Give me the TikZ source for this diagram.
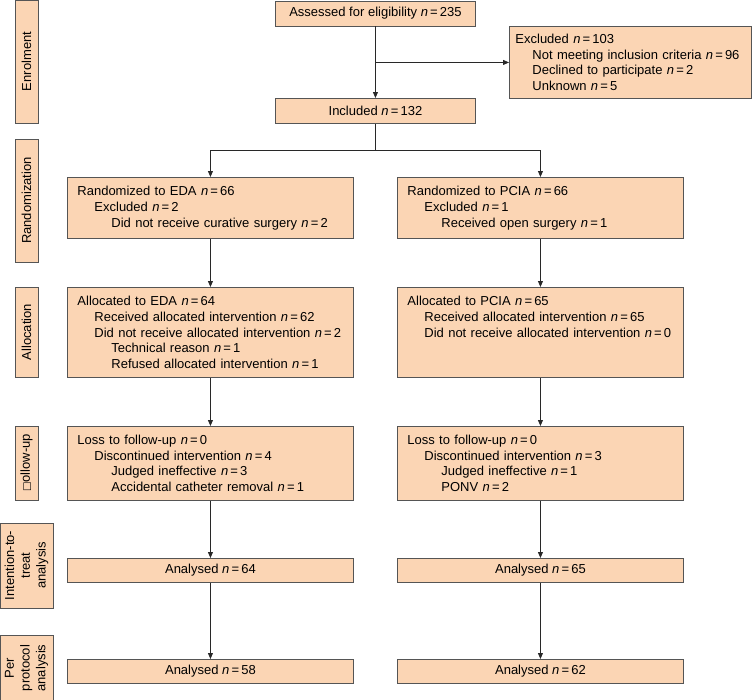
\documentclass[tikz,border=0pt]{standalone}
\usepackage{fontspec}
\setmainfont{Liberation Sans}
\newfontfamily\dejavu{DejaVu Sans}
\usetikzlibrary{arrows.meta}
\definecolor{peach}{RGB}{251,213,180}
\definecolor{edgegray}{RGB}{85,85,85}
\definecolor{linegray}{RGB}{40,40,40}
\newcommand{\nn}[1]{\textit{n}\,=\,#1}
\newcommand{\ind}{\hspace*{17pt}}
\begin{document}
\begin{tikzpicture}[x=1pt,y=-1pt,
  every node/.style={font=\fontsize{13}{15.75}\selectfont},
  box/.style={draw=edgegray, fill=peach, line width=0.9pt, anchor=north west, inner sep=0pt},
  sz/.style 2 args={minimum width=#1pt, minimum height=#2pt},
  lt/.style={align=left, text width=#1pt},
  lab/.style={draw=edgegray, fill=peach, line width=0.9pt, rotate=90, inner sep=0pt, align=center},
  arr/.style={-{Triangle[width=5pt,length=6pt]}, draw=linegray, line width=0.8pt},
  ln/.style={draw=linegray, line width=0.8pt}
]
\useasboundingbox (0,0) rectangle (752,699);

% stage labels
\node[lab, minimum width=123pt, minimum height=23pt] (lenrol) at (26.5,61.5) {Enrolment};
\node[lab, minimum width=123pt, minimum height=23pt] (lrand) at (26.5,200.5) {Randomization};
\node[lab, minimum width=90pt, minimum height=23pt] (lalloc) at (26.5,332) {Allocation};
\node[lab, minimum width=74pt, minimum height=23pt] (lfollow) at (26.5,463) {{\dejavu\fontsize{10}{10}\selectfont □}ollow-up};
\node[lab, minimum width=85pt, minimum height=53pt] (litt) at (26.5,565.5) {Intention-to-\\treat\\analysis};
\node[lab, minimum width=66pt, minimum height=53pt] (lpp) at (26.5,668) {Per\\protocol\\analysis};

% enrolment
\node[box, sz={200}{25}] (assess) at (275,0.5) {Assessed for eligibility \nn{235}};
\node[box, sz={242}{72}, lt=230] (excl) at (509,26) {Excluded \nn{103}\\
  \ind Not meeting inclusion criteria \nn{96}\\
  \ind Declined to participate \nn{2}\\
  \ind Unknown \nn{5}};
\node[box, sz={200}{25}] (incl) at (275,98) {Included \nn{132}};

% randomization
\node[box, sz={286}{61}, lt=266] (r1) at (67,177) {Randomized to EDA \nn{66}\\
  \ind Excluded \nn{2}\\
  \ind\ind Did not receive curative surgery \nn{2}};
\node[box, sz={286}{61}, lt=266] (r2) at (397,177) {Randomized to PCIA \nn{66}\\
  \ind Excluded \nn{1}\\
  \ind\ind Received open surgery \nn{1}};

% allocation
\node[box, sz={286}{90}, lt=266] (a1) at (67,287) {Allocated to EDA \nn{64}\\
  \ind Received allocated intervention \nn{62}\\
  \ind Did not receive allocated intervention \nn{2}\\
  \ind\ind Technical reason \nn{1}\\
  \ind\ind Refused allocated intervention \nn{1}};
\node[box, sz={286}{90}, lt=266] (a2) at (397,287) {Allocated to PCIA \nn{65}\\
  \ind Received allocated intervention \nn{65}\\
  \ind Did not receive allocated intervention \nn{0}\\
  ~\\
  ~};

% follow-up
\node[box, sz={286}{74}, lt=266] (f1) at (67,426) {Loss to follow-up \nn{0}\\
  \ind Discontinued intervention \nn{4}\\
  \ind\ind Judged ineffective \nn{3}\\
  \ind\ind Accidental catheter removal \nn{1}};
\node[box, sz={286}{74}, lt=266] (f2) at (397,426) {Loss to follow-up \nn{0}\\
  \ind Discontinued intervention \nn{3}\\
  \ind\ind Judged ineffective \nn{1}\\
  \ind\ind PONV \nn{2}};

% analyses
\node[box, sz={286}{24}] (t1) at (67,558) {Analysed \nn{64}};
\node[box, sz={286}{24}] (t2) at (397,558) {Analysed \nn{65}};
\node[box, sz={286}{24}] (p1) at (67,659) {Analysed \nn{58}};
\node[box, sz={286}{24}] (p2) at (397,659) {Analysed \nn{62}};

% connectors
\draw[arr] (assess.south) -- (incl.north);
\coordinate (branch) at (assess.south |- excl.west);
\draw[arr] (branch) -- (excl.west);
\coordinate (split) at (incl.south |- 0,150);
\draw[ln] (incl.south) -- (split);
\draw[arr] (split) -| (r1.north);
\draw[arr] (split) -| (r2.north);
\draw[arr] (r1.south) -- (a1.north);
\draw[arr] (r2.south) -- (a2.north);
\draw[arr] (a1.south) -- (f1.north);
\draw[arr] (a2.south) -- (f2.north);
\draw[arr] (f1.south) -- (t1.north);
\draw[arr] (f2.south) -- (t2.north);
\draw[arr] (t1.south) -- (p1.north);
\draw[arr] (t2.south) -- (p2.north);
\end{tikzpicture}
\end{document}
